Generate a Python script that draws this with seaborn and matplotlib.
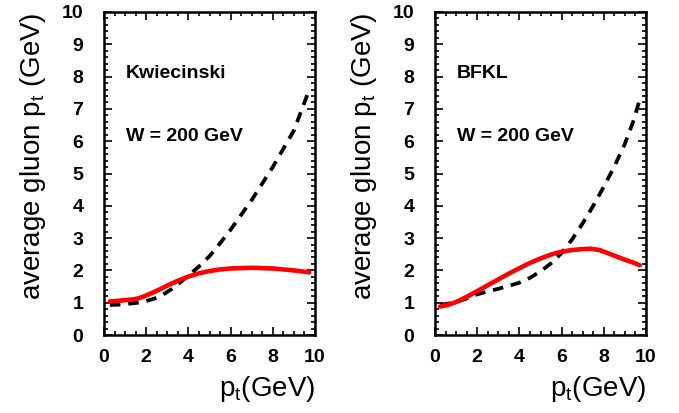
import matplotlib
matplotlib.use("Agg")
import matplotlib.pyplot as plt
from matplotlib.ticker import MultipleLocator
import seaborn as sns
import pandas as pd

# Kwiecinski panel
kw_x = [0.28, 0.7, 1.2, 1.55, 1.8, 2.2, 2.6, 3.0, 3.5, 4.0, 4.5, 5.0, 5.5, 6.0, 7.0, 8.0, 9.0, 9.73]
kw_solid = [1.04, 1.06, 1.09, 1.12, 1.17, 1.28, 1.40, 1.53, 1.68, 1.81, 1.91, 1.98, 2.03, 2.06, 2.08, 2.06, 2.00, 1.94]
kw_dash_x = [0.28, 0.7, 1.2, 1.6, 2.0, 2.4, 2.8, 3.2, 3.6, 4.0, 4.5, 5.0, 5.5, 6.0, 7.0, 8.0, 9.0, 9.73]
kw_dash = [0.93, 0.94, 0.97, 1.00, 1.05, 1.13, 1.25, 1.42, 1.62, 1.84, 2.12, 2.44, 2.84, 3.26, 4.18, 5.20, 6.33, 7.60]

# BFKL panel
bf_x = [0.24, 0.6, 1.0, 1.5, 2.0, 2.5, 3.0, 3.5, 4.0, 4.5, 5.0, 5.5, 6.0, 6.5, 7.0, 7.4, 7.8, 8.2, 8.6, 9.0, 9.4, 9.7]
bf_solid = [0.88, 0.93, 1.02, 1.18, 1.36, 1.54, 1.72, 1.90, 2.07, 2.23, 2.37, 2.49, 2.58, 2.63, 2.66, 2.67, 2.63, 2.53, 2.43, 2.33, 2.24, 2.16]
bf_dash_x = [0.24, 0.6, 1.0, 1.5, 2.0, 2.5, 3.0, 3.5, 4.0, 4.5, 5.0, 5.5, 6.0, 6.5, 7.0, 7.5, 8.0, 8.5, 9.0, 9.4, 9.7]
bf_dash = [0.93, 0.97, 1.02, 1.13, 1.26, 1.35, 1.43, 1.52, 1.62, 1.77, 1.97, 2.22, 2.54, 2.96, 3.46, 4.00, 4.59, 5.22, 5.92, 6.62, 7.28]

panel_titles = ["Kwiecinski", "BFKL"]
energy_label = "W = 200 GeV"
ylabel = r"average gluon p$_{\mathregular{t}}$ (GeV)"
xlabel = r"p$_{\mathregular{t}}$(GeV)"

sns.set_theme(style="ticks")
plt.rcParams["font.family"] = ["Liberation Sans", "DejaVu Sans"]
plt.rcParams["mathtext.fontset"] = "custom"
plt.rcParams["mathtext.rm"] = "Liberation Sans"
plt.rcParams["text.color"] = "black"
plt.rcParams["axes.labelcolor"] = "black"
plt.rcParams["xtick.color"] = "black"
plt.rcParams["ytick.color"] = "black"

fig = plt.figure(figsize=(6.79, 4.13), dpi=100)
W, H = 679, 413
axes = [fig.add_axes([104 / W, (H - 335) / H, 211 / W, 323 / H]),
        fig.add_axes([435 / W, (H - 335) / H, 211 / W, 323 / H])]

panels = [
    (kw_x, kw_solid, kw_dash_x, kw_dash),
    (bf_x, bf_solid, bf_dash_x, bf_dash),
]

for ax, (sx, sy, dx, dy), title in zip(axes, panels, panel_titles):
    dfs = pd.DataFrame({"x": sx, "y": sy})
    dfd = pd.DataFrame({"x": dx, "y": dy})
    sns.lineplot(data=dfd, x="x", y="y", ax=ax, color="black", lw=2.7, sort=True)
    ax.lines[-1].set_dashes((2.8, 2.1))
    ax.lines[-1].set_dash_capstyle("butt")
    sns.lineplot(data=dfs, x="x", y="y", ax=ax, color="#ff0000", lw=3.3, sort=True)
    ax.lines[-1].set_solid_joinstyle("round")
    ax.set_xlim(0, 10)
    ax.set_ylim(0, 10)
    ax.xaxis.set_major_locator(MultipleLocator(2))
    ax.xaxis.set_minor_locator(MultipleLocator(0.5))
    ax.yaxis.set_major_locator(MultipleLocator(1))
    ax.yaxis.set_minor_locator(MultipleLocator(0.2))
    ax.tick_params(which="both", direction="in", top=True, right=True,
                   width=1.2, color="black", labelsize=14)
    ax.tick_params(which="major", length=5.5)
    ax.tick_params(which="minor", length=3)
    ax.tick_params(axis="y", which="major", pad=15)
    ax.tick_params(axis="x", which="major", pad=10)
    for lbl in ax.get_xticklabels() + ax.get_yticklabels():
        lbl.set_fontweight("bold")
    for sp in ax.spines.values():
        sp.set_linewidth(1.8)
        sp.set_color("black")
    ax.set_xlabel(xlabel, fontsize=20, loc="right", labelpad=6)
    ax.set_ylabel(ylabel, fontsize=20, loc="top", labelpad=10)
    ax.text(1.05, 8.1, title, fontsize=14, fontweight="bold", va="center", ha="left")
    ax.text(1.05, 6.15, energy_label, fontsize=14, fontweight="bold", va="center", ha="left")

fig.savefig("out.png", dpi=100)
